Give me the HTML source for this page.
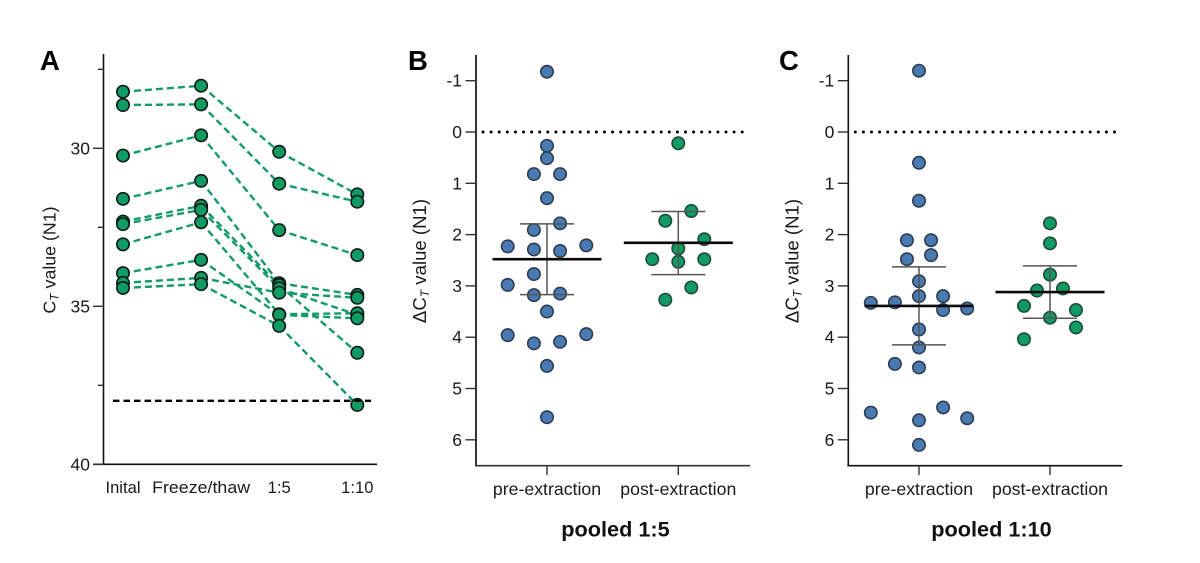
<!DOCTYPE html>
<html lang="en">
<head>
<meta charset="utf-8">
<title>CT value charts</title>
<style>
html,body{margin:0;padding:0;background:#fff;width:1200px;height:563px;overflow:hidden}
svg{display:block;font-family:"Liberation Sans",Arial,sans-serif}
</style>
</head>
<body>
<svg id="chart" xmlns="http://www.w3.org/2000/svg" width="1200" height="563" viewBox="0 0 1200 563"></svg>
<script>
// Panel A data
const stagesA = ['Inital', 'Freeze/thaw', '1:5', '1:10'];
const ticksA = [30, 35, 40];
const minorTicksA = [27.5, 32.5, 37.5];
const thresholdA = 37.99;
const sample1 = [28.21, 28.02, 30.11, 31.46];
const sample2 = [28.63, 28.61, 31.12, 31.69];
const sample3 = [30.23, 29.59, 32.59, 33.38];
const sample4 = [31.60, 31.03, 34.27, 34.64];
const sample5 = [32.32, 31.82, 34.33, 36.47];
const sample6 = [32.40, 31.95, 34.43, 35.27];
const sample7 = [33.04, 32.34, 35.25, 35.22];
const sample8 = [33.95, 33.53, 35.27, 35.38];
const sample9 = [34.26, 34.10, 34.57, 34.73];
const sample10 = [34.42, 34.30, 35.62, 38.12];
const samplesA = [sample1, sample2, sample3, sample4, sample5, sample6, sample7, sample8, sample9, sample10];

// Panels B and C data
const ticksDelta = [-1, 0, 1, 2, 3, 4, 5, 6];
const groupLabels = ['pre-extraction', 'post-extraction'];

const preB = [-1.175, 0.27, 0.51, 0.82, 0.82, 1.29, 1.78, 1.91, 2.23, 2.21, 2.29, 2.32, 2.77, 2.98, 3.18, 3.15, 3.50, 3.96, 4.12, 4.09, 3.94, 4.56, 5.56];
const preBSlots = [0, 0, 0, -1, 1, 0, 1, -1, -3, 3, -1, 1, -1, -3, -1, 1, 0, -3, -1, 1, 3, 0, 0];
const postB = [0.22, 1.54, 1.73, 2.09, 2.27, 2.48, 2.48, 2.53, 3.03, 3.27];
const postBSlots = [0, 1, -1, 2, 0, -2, 2, 0, 1, -1];
const statsPreB = [2.48, 1.79, 3.17];
const statsPostB = [2.16, 1.55, 2.78];

const preC = [-1.195, 0.60, 1.34, 2.11, 2.11, 2.40, 2.48, 2.91, 3.20, 3.20, 3.32, 3.33, 3.47, 3.44, 3.85, 4.20, 4.52, 4.59, 5.47, 5.37, 5.62, 5.58, 6.10];
const preCSlots = [0, 0, 0, -1, 1, 1, -1, 0, 0, 2, -2, -4, 2, 4, 0, 0, -2, 0, -4, 2, 0, 4, 0];
const postC = [1.78, 2.17, 2.78, 3.09, 3.05, 3.39, 3.47, 3.62, 3.81, 4.04];
const postCSlots = [0, 0, 0, -1, 1, -2, 2, 0, 2, -2];
const statsPreC = [3.39, 2.63, 4.15];
const statsPostC = [3.12, 2.61, 3.63];

const svg = document.getElementById('chart');
const NS = 'http://www.w3.org/2000/svg';
const GREEN = '#0f9b63';
const BLUE = '#4a7ab2';

function mk(tag, attrs, parent, text) {
  const e = document.createElementNS(NS, tag);
  for (const k in attrs) e.setAttribute(k, attrs[k]);
  if (text !== undefined) e.textContent = text;
  (parent || svg).appendChild(e);
  return e;
}
function line(x1, y1, x2, y2, stroke, w, extra, parent) {
  return mk('line', Object.assign({x1, y1, x2, y2, stroke, 'stroke-width': w}, extra || {}), parent);
}

function yTitle(parent, x, yc, prefix, size) {
  const t = mk('text', {transform: 'translate(' + x + ' ' + yc + ') rotate(-90)', 'text-anchor': 'middle', 'font-size': size, fill: '#1a1a1a'}, parent);
  
  
  t.textContent = prefix + 'C';
  mk('tspan', {'font-size': 12, 'font-style': 'italic', dy: 3}, t, 'T');
  mk('tspan', {dy: -3}, t, ' value (N1)');
}

/* Panel A */
const gA = mk('g', {});


const yA = v => 148.3 + (v - 30) * 31.6;
const xA = i => 123 + i * 78.1;

const labelA = mk('text', {x: 40, y: 70, 'font-size': 27.5, 'font-weight': 'bold', fill: '#000'}, gA, 'A');



const axisAY = line(103.5, 54, 103.5, 465, '#111', 1.6, {}, gA);


const axisAX = line(93, 464.3, 377, 464.3, '#111', 1.6, {}, gA);



ticksA.forEach(v => {
  const t = line(93, yA(v), 103.5, yA(v), '#333', 1.4, {}, gA);
  
  
  const l = mk('text', {x: 90, y: yA(v) + 6, 'text-anchor': 'end', 'font-size': 17.5, fill: '#1a1a1a'}, gA, String(v));
  
  
});
minorTicksA.forEach(v => {
  const t = line(98, yA(v), 103.5, yA(v), '#333', 1.4, {}, gA);
  
  
});
stagesA.forEach((s, i) => {
  const attrs = {x: xA(i), y: 493, 'text-anchor': 'middle', 'font-size': 16.6, fill: '#1a1a1a'};
  if (s.length > 8) {
    attrs.textLength = 98;
    attrs.lengthAdjust = 'spacingAndGlyphs';
  }
  const l = mk('text', attrs, gA, s);
  
  
});
yTitle(gA, 55.5, 260, '', 17.8);

samplesA.forEach(series => {
  series.slice(1).forEach((v, i) => {
    const seg = line(xA(i), yA(series[i]), xA(i + 1), yA(v), '#139a66', 2.4, {'stroke-dasharray': '7 4'}, gA);
    
    
  });
});
samplesA.forEach(series => {
  series.forEach((v, i) => {
    const c = mk('circle', {cx: xA(i), cy: yA(v), r: 6.2, fill: GREEN, stroke: '#0c1a14', 'stroke-width': 1.6}, gA);
    
    
  });
});
const thr = line(113, yA(thresholdA), 371, yA(thresholdA), '#000', 2.4, {'stroke-dasharray': '6.5 4'}, gA);



/* Panels B and C */
function deltaPanel(cfg) {
  const g = mk('g', {});
  
  
  const y = v => 132 + v * 51.3;
  const ax = cfg.ax;
  const xs = [cfg.x0, cfg.x1];

  const lab = mk('text', {x: cfg.labelX, y: 70, 'font-size': 27.5, 'font-weight': 'bold', fill: '#000'}, g, cfg.letter);
  
  

  const ay = line(ax, 55, ax, 466, cfg.axisColor, cfg.axisW, {}, g);
  
  
  const axx = line(ax - 1, 465.7, ax + 274, 465.7, cfg.axisColor, 1.6, {}, g);
  
  

  ticksDelta.forEach(v => {
    const t = line(ax - 10.5, y(v), ax, y(v), '#333', 1.4, {}, g);
    
    
    const l = mk('text', {x: ax - 14, y: y(v) + 6, 'text-anchor': 'end', 'font-size': 17.5, fill: '#1a1a1a'}, g, String(v));
    
    
  });
  groupLabels.forEach((s, i) => {
    const t = line(xs[i], 465.7, xs[i], 475, '#333', 1.4, {}, g);
    
    
    const l = mk('text', {x: xs[i], y: 495, 'text-anchor': 'middle', 'font-size': 17.7, fill: '#1a1a1a'}, g, s);
    
    
  });
  yTitle(g, ax - 50, 261, '\u0394', 18.6);

  const dots = line(ax + 7, y(0), ax + 268, y(0), '#000', 3, {'stroke-dasharray': '0 8.1', 'stroke-linecap': 'round'}, g);
  
  

  cfg.groups.forEach((grp, gi) => {
    const cx = xs[gi];
    grp.values.forEach((v, i) => {
      const c = mk('circle', {cx: cx + grp.slots[i] * grp.unit, cy: y(v), r: 6.2, fill: grp.fill, stroke: grp.edge, 'stroke-width': 1.6}, g);
      
      
    });
    const [mean, lo, hi] = grp.stats;
    const eb = line(cx, y(lo), cx, y(hi), '#555', 1.5, {}, g);
    
    
    [lo, hi].forEach(s => {
      const cap = line(cx - 27, y(s), cx + 27, y(s), '#555', 1.5, {}, g);
      
      
    });
    const m = line(cx - 54.5, y(mean), cx + 54.5, y(mean), '#0a0a0a', 2.6, {}, g);
    
    
  });

  const title = mk('text', {x: cfg.titleX, y: 536.5, 'text-anchor': 'middle', 'font-size': 21.7, 'font-weight': 'bold', fill: '#111'}, g, cfg.title);
  
  
}

deltaPanel({
  name: 'panel-b', letter: 'B', labelX: 408, ax: 476, x0: 547, x1: 678.3,
  axisColor: '#333', axisW: 2, titleX: 615.5, title: 'pooled 1:5',
  groups: [
    {values: preB, slots: preBSlots, unit: 13.1, fill: BLUE, edge: '#2d3c50', stats: statsPreB},
    {values: postB, slots: postBSlots, unit: 13, fill: GREEN, edge: '#1f4a38', stats: statsPostB}
  ]
});
deltaPanel({
  name: 'panel-c', letter: 'C', labelX: 779, ax: 848.3, x0: 919, x1: 1050,
  axisColor: '#111', axisW: 1.6, titleX: 991.5, title: 'pooled 1:10',
  groups: [
    {values: preC, slots: preCSlots, unit: 12.05, fill: BLUE, edge: '#2d3c50', stats: statsPreC},
    {values: postC, slots: postCSlots, unit: 13, fill: GREEN, edge: '#1f4a38', stats: statsPostC}
  ]
});
</script>
</body>
</html>
